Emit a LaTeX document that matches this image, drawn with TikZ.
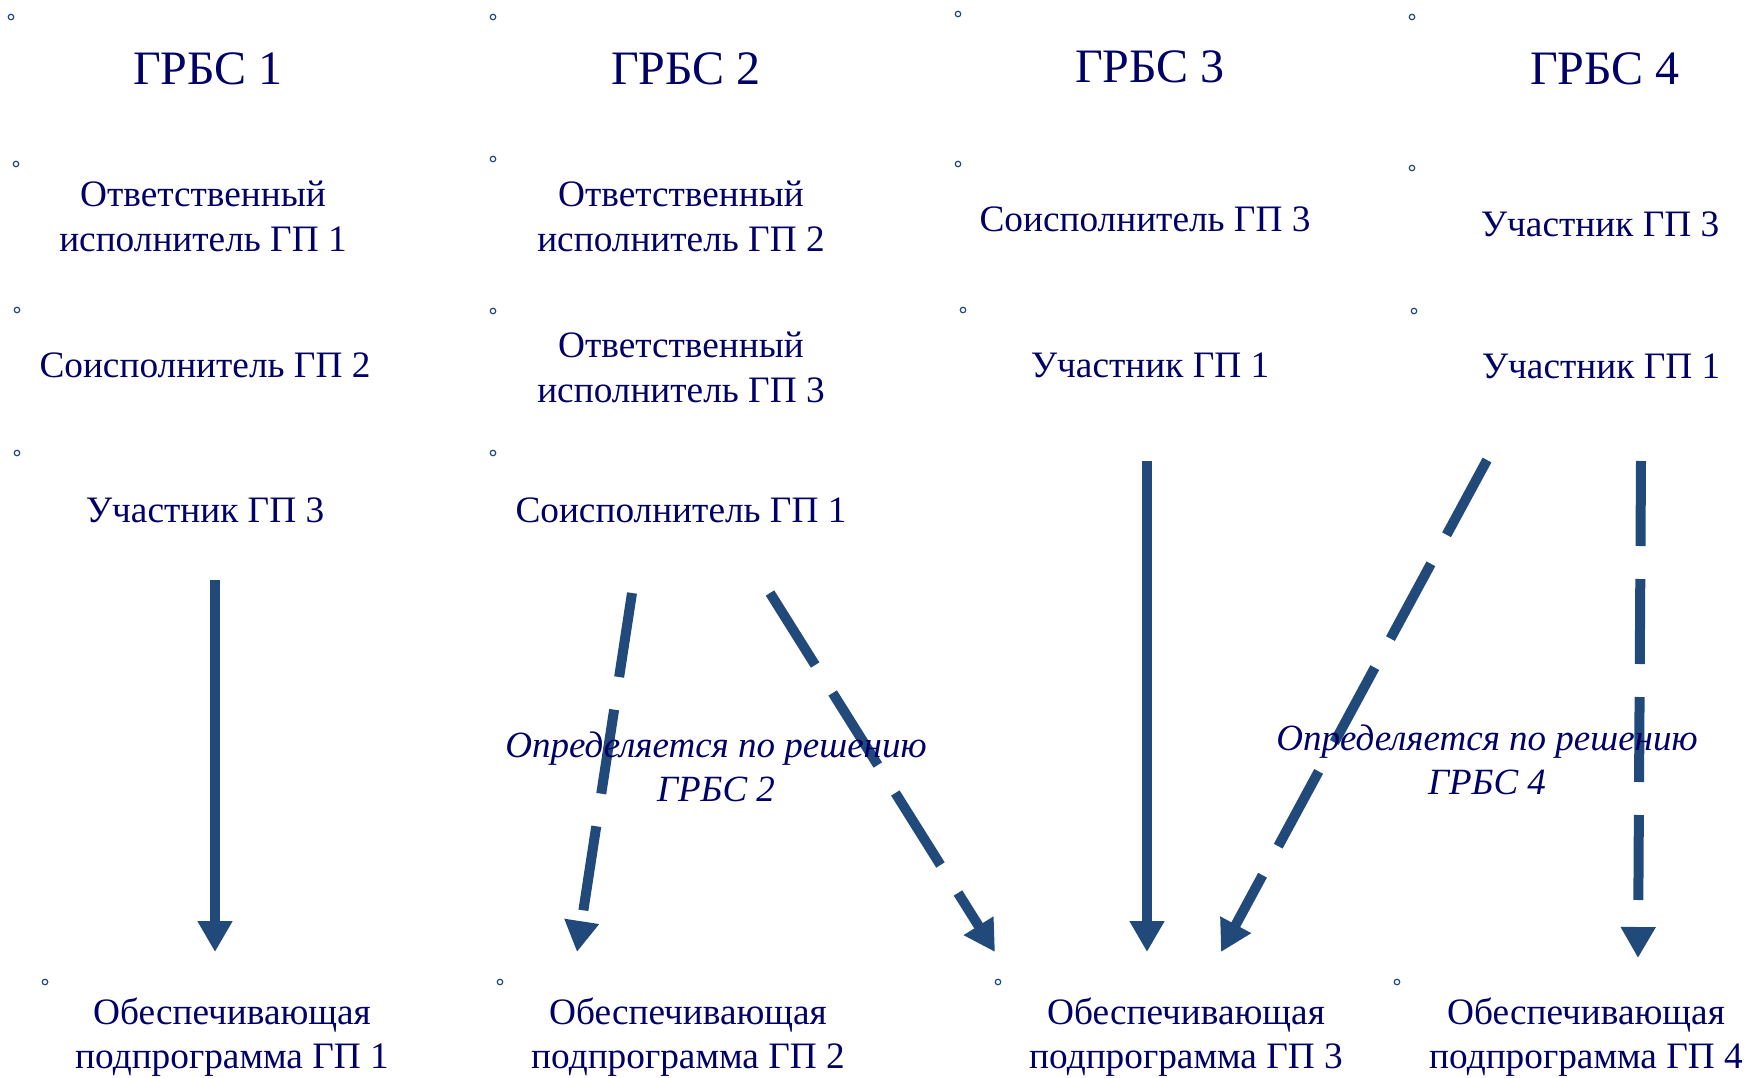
\documentclass[tikz,border=0pt]{standalone}
\usepackage{fontspec}
\setmainfont{Liberation Serif}
\usetikzlibrary{arrows.meta}
\definecolor{txt}{RGB}{0,0,102}
\definecolor{arr}{RGB}{33,74,123}
\begin{document}
\begin{tikzpicture}[x=1pt,y=-1pt,
 lbl/.style={text=txt,font=\fontsize{37.3}{45}\selectfont,align=center,inner sep=0pt},
 sub/.style={lbl,font=\fontsize{37.3}{43.5}\selectfont},
 hdr/.style={text=txt,font=\fontsize{48}{56}\selectfont,inner sep=0pt},
 note/.style={text=txt,font=\fontsize{37}{44}\selectfont\itshape,align=center,inner sep=0pt},
 bul/.style={circle,draw=arr,line width=1.2pt,minimum size=5.5pt,inner sep=0pt},
 conn/.style={draw=arr,line width=10pt,-{Triangle[width=33pt,length=31pt]}},
 dashconn/.style={conn,dash pattern=on 85pt off 33pt}]
\useasboundingbox (0,0) rectangle (1746,1077);
% bullets
\foreach \i/\x/\y in {1/11/17,2/16/164,3/17/310,4/17/453,5/45/982,
  6/493/17,7/493/159,8/493/311,9/493/453,10/500/982,
  11/958/14,12/958/164,13/963/310,14/998/982,
  15/1412/17,16/1412/168,17/1414/311,18/1397/982}
  \node[bul] (b\i) at (\x,\y) {};
% headers
\node[hdr] (h1) at (208,69) {ГРБС 1};
\node[hdr] (h2) at (686,69) {ГРБС 2};
\node[hdr] (h3) at (1150,67) {ГРБС 3};
\node[hdr] (h4) at (1605,69) {ГРБС 4};
% column 1
\node[lbl] (c11) at (203,216) {Ответственный\\исполнитель ГП 1};
\node[lbl] (c12) at (205,365) {Соисполнитель ГП 2};
\node[lbl] (c13) at (205,510) {Участник ГП 3};
\node[sub] (p1) at (232,1037) {Обеспечивающая\\подпрограмма ГП 1};
% column 2
\node[lbl] (c21) at (681,216) {Ответственный\\исполнитель ГП 2};
\node[lbl] (c22) at (681,367) {Ответственный\\исполнитель ГП 3};
\node[lbl] (c23) at (681,510) {Соисполнитель ГП 1};
\node[sub] (p2) at (688,1037) {Обеспечивающая\\подпрограмма ГП 2};
% column 3
\node[lbl] (c31) at (1145,219) {Соисполнитель ГП 3};
\node[lbl] (c32) at (1150,365) {Участник ГП 1};
\node[sub] (p3) at (1186,1037) {Обеспечивающая\\подпрограмма ГП 3};
% column 4
\node[lbl] (c41) at (1600,224) {Участник ГП 3};
\node[lbl] (c42) at (1601,366) {Участник ГП 1};
\node[sub] (p4) at (1586,1037) {Обеспечивающая\\подпрограмма ГП 4};
% arrow end points
\coordinate (s1) at (215,580);  \coordinate (e1) at (215,952);
\coordinate (s2) at (632,593);  \coordinate (e2) at (577,952);
\coordinate (s3) at (770,593);  \coordinate (e3) at (995,952);
\coordinate (s4) at (1147,461); \coordinate (e4) at (1147,952);
\coordinate (s5) at (1487,460); \coordinate (e5) at (1221,952);
\coordinate (s6) at (1641,461); \coordinate (e6) at (1638,958);
\draw[conn] (s1) -- (e1);
\draw[dashconn] (s2) -- (e2);
\draw[dashconn] (s3) -- (e3);
\draw[conn] (s4) -- (e4);
\draw[dashconn] (s5) -- (e5);
\draw[dashconn] (s6) -- (e6);
% notes
\node[note] (n2) at (716,767) {Определяется по решению\\ГРБС 2};
\node[note] (n4) at (1487,760) {Определяется по решению\\ГРБС 4};
\end{tikzpicture}
\end{document}
